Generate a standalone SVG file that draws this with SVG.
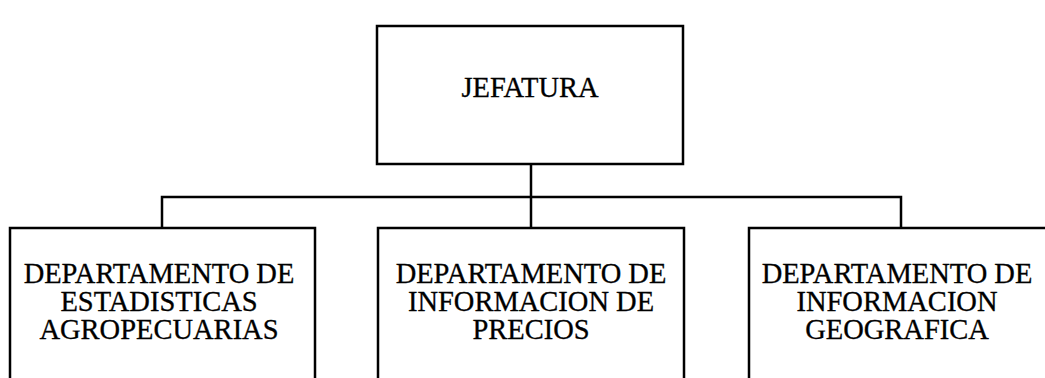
<svg xmlns="http://www.w3.org/2000/svg" width="1045" height="378" viewBox="0 0 1045 378">
<style>
.box{fill:#fff;stroke:#000;stroke-width:2.5}
.conn{fill:none;stroke:#000;stroke-width:2.5}
.t{font-family:"Liberation Serif","Times New Roman",serif;font-size:28.5px;fill:#000;stroke:#000;stroke-width:0.3;text-anchor:middle}
</style>
<rect width="1045" height="378" fill="#fff"/>
<g id="connectors">
<path class="conn" d="M531,164 V228"/>
<path class="conn" d="M162,228 V197 H901 V228"/>
</g>
<g id="jefatura">
<rect class="box" x="377" y="26" width="306" height="138"/>
<text class="t" x="530" y="97">JEFATURA</text>
</g>
<g id="dep-estadisticas">
<rect class="box" x="10" y="228" width="305" height="170"/>
<text class="t" x="159" y="283">DEPARTAMENTO DE</text>
<text class="t" x="159" y="311">ESTADISTICAS</text>
<text class="t" x="159" y="339">AGROPECUARIAS</text>
</g>
<g id="dep-precios">
<rect class="box" x="378" y="228" width="306" height="170"/>
<text class="t" x="531" y="283">DEPARTAMENTO DE</text>
<text class="t" x="531" y="311">INFORMACION DE</text>
<text class="t" x="531" y="339">PRECIOS</text>
</g>
<g id="dep-geografica">
<rect class="box" x="749" y="228" width="310" height="170"/>
<text class="t" x="897" y="283">DEPARTAMENTO DE</text>
<text class="t" x="897" y="311">INFORMACION</text>
<text class="t" x="897" y="339">GEOGRAFICA</text>
</g>
</svg>
